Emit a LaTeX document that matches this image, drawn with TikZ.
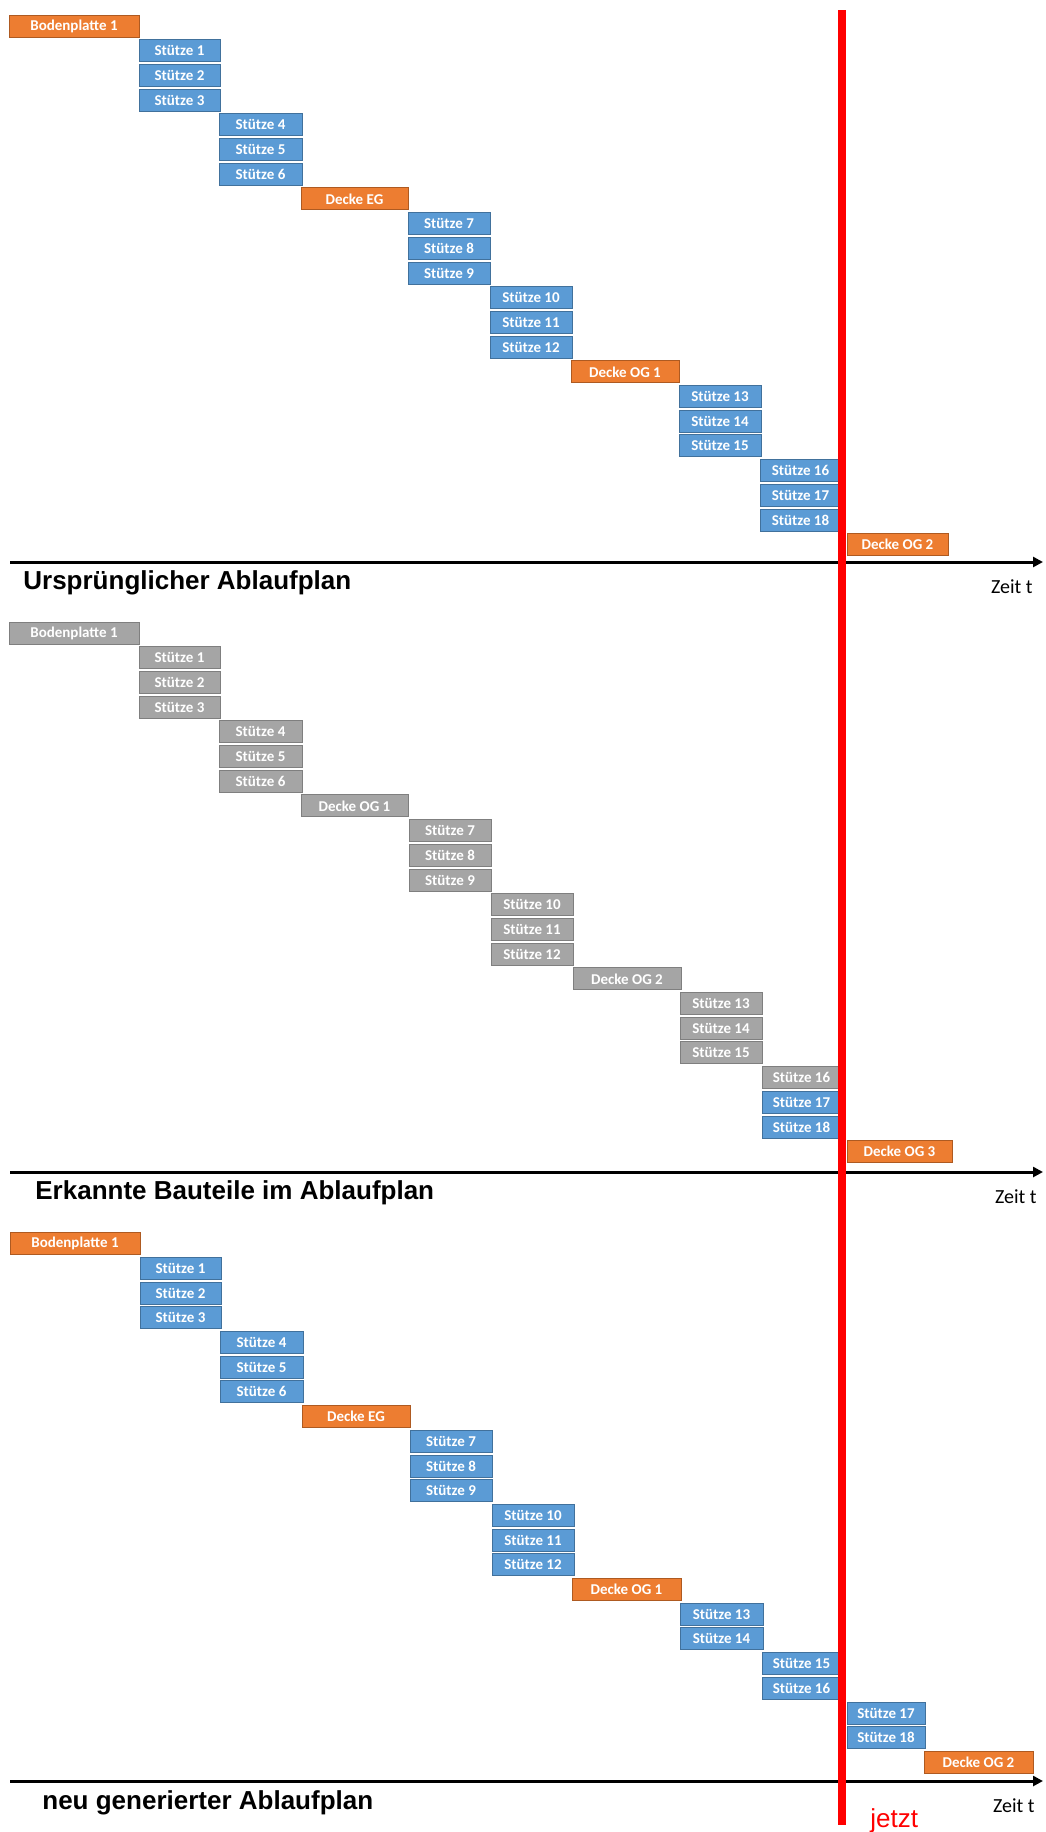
\documentclass[tikz,border=0pt]{standalone}
\usepackage{fontspec}
\setmainfont{Carlito}
\newfontfamily\headfont{Liberation Sans}
\usetikzlibrary{arrows.meta}

\definecolor{tblue}{HTML}{5B9BD5}
\definecolor{tblueline}{HTML}{41719C}
\definecolor{torange}{HTML}{ED7D31}
\definecolor{torangeline}{HTML}{AE5A21}
\definecolor{tgray}{HTML}{A5A5A5}
\definecolor{tgrayline}{HTML}{7F7F7F}

\tikzset{
  bar/.style={rectangle, inner sep=0pt, minimum height=11pt, line width=0.5pt,
    text=white, font=\bfseries\fontsize{7.5}{9}\selectfont},
  colbar/.style={bar, fill=tblue, draw=tblueline},
  slabbar/.style={bar, fill=torange, draw=torangeline},
  donebar/.style={bar, fill=tgray, draw=tgrayline},
  timeaxis/.style={line width=1.5pt, -{Triangle[length=5pt,width=5pt]}},
  planlabel/.style={anchor=base west, inner sep=0pt,
    font=\headfont\bfseries\fontsize{13}{15}\selectfont},
  timelabel/.style={anchor=base east, inner sep=0pt, font=\fontsize{10}{12}\selectfont},
  nowline/.style={line width=4pt, draw=red},
  nowlabel/.style={anchor=base west, inner sep=0pt, text=red,
    font=\headfont\fontsize{13}{15}\selectfont},
}

% one bar of the schedule: name, style, left, right, row index, label
\newcommand\ganttbar[6]{%
  \node[#2, minimum width={(#4-#3)*0.5pt}] (#1) at ({(#3+#4)/2},{\rowbase+24.7*#5}) {#6};}

\begin{document}
\begin{tikzpicture}[x=0.5pt, y=-0.5pt]
\useasboundingbox (0,0) rectangle (1045,1832);

% ---------- original schedule ----------
\def\rowbase{26}
\ganttbar{a0}{slabbar}{9}{139}{0}{Bodenplatte 1}
\ganttbar{a1}{colbar}{139}{220}{1}{Stütze 1}
\ganttbar{a2}{colbar}{139}{220}{2}{Stütze 2}
\ganttbar{a3}{colbar}{139}{220}{3}{Stütze 3}
\ganttbar{a4}{colbar}{219}{302}{4}{Stütze 4}
\ganttbar{a5}{colbar}{219}{302}{5}{Stütze 5}
\ganttbar{a6}{colbar}{219}{302}{6}{Stütze 6}
\ganttbar{a7}{slabbar}{301}{408}{7}{Decke EG}
\ganttbar{a8}{colbar}{408}{490}{8}{Stütze 7}
\ganttbar{a9}{colbar}{408}{490}{9}{Stütze 8}
\ganttbar{a10}{colbar}{408}{490}{10}{Stütze 9}
\ganttbar{a11}{colbar}{490}{572}{11}{Stütze 10}
\ganttbar{a12}{colbar}{490}{572}{12}{Stütze 11}
\ganttbar{a13}{colbar}{490}{572}{13}{Stütze 12}
\ganttbar{a14}{slabbar}{571}{679}{14}{Decke OG 1}
\ganttbar{a15}{colbar}{679}{761}{15}{Stütze 13}
\ganttbar{a16}{colbar}{679}{761}{16}{Stütze 14}
\ganttbar{a17}{colbar}{679}{761}{17}{Stütze 15}
\ganttbar{a18}{colbar}{760}{841}{18}{Stütze 16}
\ganttbar{a19}{colbar}{760}{841}{19}{Stütze 17}
\ganttbar{a20}{colbar}{760}{841}{20}{Stütze 18}
\ganttbar{a21}{slabbar}{847}{948}{21}{Decke OG 2}
\coordinate (axA0) at (10,562);
\coordinate (axA1) at (1043,562);
\draw[timeaxis] (axA0) -- (axA1);
\node[planlabel] (titleA) at (23,589) {Ursprünglicher Ablaufplan};
\node[timelabel] (timeA) at (1033,593) {Zeit t};

% ---------- recognised components ----------
\def\rowbase{633}
\ganttbar{b0}{donebar}{9}{139}{0}{Bodenplatte 1}
\ganttbar{b1}{donebar}{139}{220}{1}{Stütze 1}
\ganttbar{b2}{donebar}{139}{220}{2}{Stütze 2}
\ganttbar{b3}{donebar}{139}{220}{3}{Stütze 3}
\ganttbar{b4}{donebar}{219}{302}{4}{Stütze 4}
\ganttbar{b5}{donebar}{219}{302}{5}{Stütze 5}
\ganttbar{b6}{donebar}{219}{302}{6}{Stütze 6}
\ganttbar{b7}{donebar}{301}{408}{7}{Decke OG 1}
\ganttbar{b8}{donebar}{409}{491}{8}{Stütze 7}
\ganttbar{b9}{donebar}{409}{491}{9}{Stütze 8}
\ganttbar{b10}{donebar}{409}{491}{10}{Stütze 9}
\ganttbar{b11}{donebar}{491}{573}{11}{Stütze 10}
\ganttbar{b12}{donebar}{491}{573}{12}{Stütze 11}
\ganttbar{b13}{donebar}{491}{573}{13}{Stütze 12}
\ganttbar{b14}{donebar}{573}{681}{14}{Decke OG 2}
\ganttbar{b15}{donebar}{680}{762}{15}{Stütze 13}
\ganttbar{b16}{donebar}{680}{762}{16}{Stütze 14}
\ganttbar{b17}{donebar}{680}{762}{17}{Stütze 15}
\ganttbar{b18}{donebar}{762}{841}{18}{Stütze 16}
\ganttbar{b19}{colbar}{762}{841}{19}{Stütze 17}
\ganttbar{b20}{colbar}{762}{841}{20}{Stütze 18}
\ganttbar{b21}{slabbar}{847}{952}{21}{Decke OG 3}
\coordinate (axB0) at (10,1172);
\coordinate (axB1) at (1043,1172);
\draw[timeaxis] (axB0) -- (axB1);
\node[planlabel] (titleB) at (35,1199) {Erkannte Bauteile im Ablaufplan};
\node[timelabel] (timeB) at (1037,1203) {Zeit t};

% ---------- regenerated schedule ----------
\def\rowbase{1243.7}
\ganttbar{c0}{slabbar}{10}{140}{0}{Bodenplatte 1}
\ganttbar{c1}{colbar}{140}{221}{1}{Stütze 1}
\ganttbar{c2}{colbar}{140}{221}{2}{Stütze 2}
\ganttbar{c3}{colbar}{140}{221}{3}{Stütze 3}
\ganttbar{c4}{colbar}{220}{303}{4}{Stütze 4}
\ganttbar{c5}{colbar}{220}{303}{5}{Stütze 5}
\ganttbar{c6}{colbar}{220}{303}{6}{Stütze 6}
\ganttbar{c7}{slabbar}{302}{410}{7}{Decke EG}
\ganttbar{c8}{colbar}{410}{492}{8}{Stütze 7}
\ganttbar{c9}{colbar}{410}{492}{9}{Stütze 8}
\ganttbar{c10}{colbar}{410}{492}{10}{Stütze 9}
\ganttbar{c11}{colbar}{492}{574}{11}{Stütze 10}
\ganttbar{c12}{colbar}{492}{574}{12}{Stütze 11}
\ganttbar{c13}{colbar}{492}{574}{13}{Stütze 12}
\ganttbar{c14}{slabbar}{572}{681}{14}{Decke OG 1}
\ganttbar{c15}{colbar}{680}{763}{15}{Stütze 13}
\ganttbar{c16}{colbar}{680}{763}{16}{Stütze 14}
\ganttbar{c17}{colbar}{762}{841}{17}{Stütze 15}
\ganttbar{c18}{colbar}{762}{841}{18}{Stütze 16}
\ganttbar{c19}{colbar}{847}{925}{19}{Stütze 17}
\ganttbar{c20}{colbar}{847}{925}{20}{Stütze 18}
\ganttbar{c21}{slabbar}{924}{1033}{21}{Decke OG 2}
\coordinate (axC0) at (10,1781);
\coordinate (axC1) at (1043,1781);
\draw[timeaxis] (axC0) -- (axC1);
\node[planlabel] (titleC) at (42,1809) {neu generierter Ablaufplan};
\node[timelabel] (timeC) at (1035,1812) {Zeit t};

% ---------- current point in time ----------
\coordinate (nowTop) at (842,10);
\coordinate (nowBot) at (842,1825);
\draw[nowline] (nowTop) -- (nowBot);
\node[nowlabel] (nowText) at (870,1827) {jetzt};
\end{tikzpicture}
\end{document}
